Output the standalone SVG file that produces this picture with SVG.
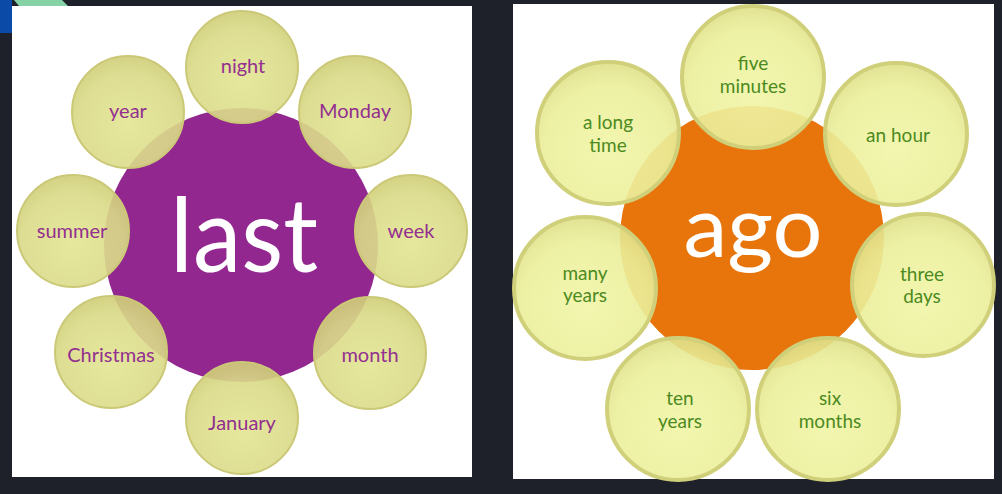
<svg xmlns="http://www.w3.org/2000/svg" width="1002" height="494" viewBox="0 0 1002 494">
  <defs>
    <radialGradient id="gL" cx="0.5" cy="0.62" r="0.6">
      <stop offset="0" stop-color="#e2e592"/>
      <stop offset="0.75" stop-color="#dadb88"/>
      <stop offset="1" stop-color="#d0cf78"/>
    </radialGradient>
    <radialGradient id="gR" cx="0.5" cy="0.62" r="0.6">
      <stop offset="0" stop-color="#f1f5a6"/>
      <stop offset="0.75" stop-color="#ebef9a"/>
      <stop offset="1" stop-color="#e0e18a"/>
    </radialGradient>
  </defs>
  <style>
    .bg{fill:#1e212a}
    .panel{fill:#ffffff}
    .satL{fill:url(#gL);stroke:#cbc877;stroke-width:2;fill-opacity:0.9}
    .satR{fill:url(#gR);stroke:#d0cf7a;stroke-width:4;fill-opacity:0.9}
    .tL{font-family:Lato,"Open Sans",sans-serif;font-size:20px;fill:#93308f;text-anchor:middle}
    .tR{font-family:Lato,"Open Sans",sans-serif;font-size:19px;fill:#4c8a1e;text-anchor:middle}
    .big{font-family:Lato,"Open Sans",sans-serif;fill:#ffffff;text-anchor:middle}
  </style>
  <rect class="bg" x="0" y="0" width="1002" height="494"/>
  <rect x="0" y="0" width="12" height="33" fill="#0b4aa6"/>
  <polygon points="14,0 62,0 68,6 19,6" fill="#86d2a6"/>
  <rect class="panel" x="12" y="6" width="460" height="471"/>
  <rect class="panel" x="513" y="4" width="481" height="475"/>

  <g id="left-diagram">
    <g id="last">
      <circle cx="241" cy="245" r="137" fill="#92278f"/>
      <text class="big" x="244" y="272" font-size="102" textLength="148" lengthAdjust="spacingAndGlyphs">last</text>
    </g>
    <g id="night"><circle class="satL" cx="242" cy="67" r="56"/><text class="tL" x="243" y="73">night</text></g>
    <g id="Monday"><circle class="satL" cx="355" cy="112" r="56"/><text class="tL" x="355" y="118">Monday</text></g>
    <g id="week"><circle class="satL" cx="411" cy="231" r="56"/><text class="tL" x="411" y="238">week</text></g>
    <g id="month"><circle class="satL" cx="370" cy="353" r="56"/><text class="tL" x="370" y="362">month</text></g>
    <g id="January"><circle class="satL" cx="242" cy="418" r="56"/><text class="tL" x="242" y="430">January</text></g>
    <g id="Christmas"><circle class="satL" cx="111" cy="352" r="56"/><text class="tL" x="111" y="362">Christmas</text></g>
    <g id="summer"><circle class="satL" cx="73" cy="231" r="56"/><text class="tL" x="72" y="238">summer</text></g>
    <g id="year"><circle class="satL" cx="128" cy="112" r="56"/><text class="tL" x="128" y="118">year</text></g>
  </g>

  <g id="right-diagram">
    <g id="ago">
      <circle cx="752" cy="238" r="132" fill="#e8740c"/>
      <text class="big" x="753" y="257" font-size="86" textLength="139" lengthAdjust="spacingAndGlyphs">ago</text>
    </g>
    <g id="five-minutes"><circle class="satR" cx="753" cy="77" r="71"/><text class="tR" x="753" y="70">five</text><text class="tR" x="753" y="93">minutes</text></g>
    <g id="an-hour"><circle class="satR" cx="896" cy="134" r="71"/><text class="tR" x="898" y="142">an hour</text></g>
    <g id="three-days"><circle class="satR" cx="923" cy="285" r="71"/><text class="tR" x="922" y="281">three</text><text class="tR" x="922" y="303">days</text></g>
    <g id="six-months"><circle class="satR" cx="828" cy="409" r="71"/><text class="tR" x="830" y="405">six</text><text class="tR" x="830" y="428">months</text></g>
    <g id="ten-years"><circle class="satR" cx="678" cy="409" r="71"/><text class="tR" x="680" y="405">ten</text><text class="tR" x="680" y="428">years</text></g>
    <g id="many-years"><circle class="satR" cx="585" cy="288" r="71"/><text class="tR" x="585" y="280">many</text><text class="tR" x="585" y="302">years</text></g>
    <g id="a-long-time"><circle class="satR" cx="608" cy="133" r="71"/><text class="tR" x="608" y="129">a long</text><text class="tR" x="608" y="152">time</text></g>
  </g>
</svg>
